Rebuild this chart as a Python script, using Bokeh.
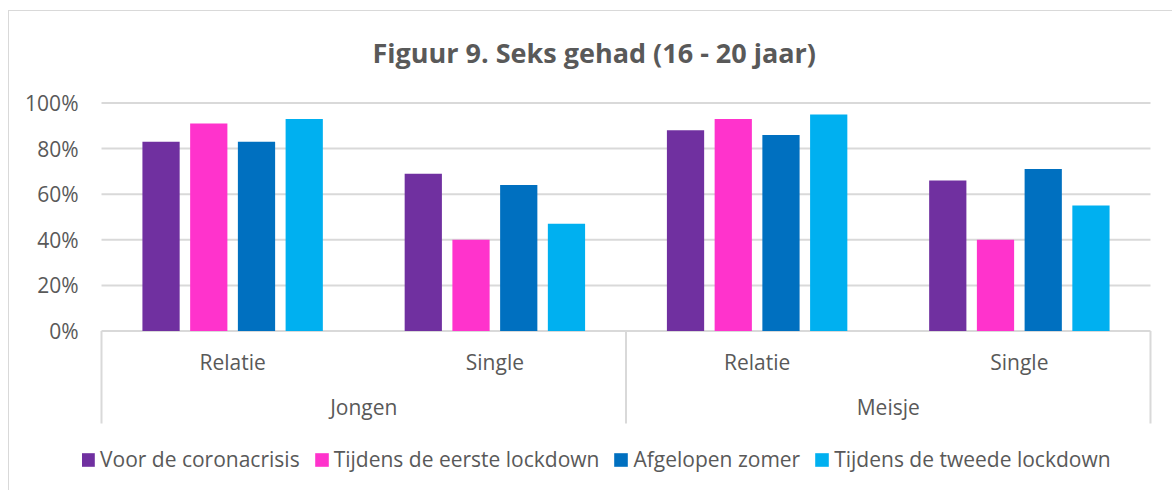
from bokeh.plotting import figure
from bokeh.models import (FactorRange, Range1d, FixedTicker, NumeralTickFormatter,
                          ColumnDataSource, Legend, LegendItem, Title)
from bokeh.transform import dodge
from bokeh.core.properties import value
from bokeh.embed import file_html
from bokeh.resources import INLINE

# ---------------- data ----------------
title_text = "Figuur 9. Seks gehad (16 - 20 jaar)"
groups = ["Jongen", "Meisje"]
subgroups = ["Relatie", "Single"]
series = ["Voor de coronacrisis", "Tijdens de eerste lockdown",
          "Afgelopen zomer", "Tijdens de tweede lockdown"]
# order: Jongen-Relatie, Jongen-Single, Meisje-Relatie, Meisje-Single
voor_corona = [0.83, 0.69, 0.88, 0.66]
eerste_lockdown = [0.91, 0.40, 0.93, 0.40]
afgelopen_zomer = [0.83, 0.64, 0.86, 0.71]
tweede_lockdown = [0.93, 0.47, 0.95, 0.55]
y_ticks = [0, 0.2, 0.4, 0.6, 0.8, 1.0]

colors = ["#7030A0", "#FF33CC", "#0070C0", "#00B0F0"]
FONT = "Open Sans"
GRAY = "#595959"
LINE = "#d9d9d9"
FS = "21px"

factors = [(g, s) for g in groups for s in subgroups]

src = ColumnDataSource(data=dict(x=factors,
                                 s0=voor_corona, s1=eerste_lockdown,
                                 s2=afgelopen_zomer, s3=tweede_lockdown,
                                 sub=[f[1] for f in factors]))

x_range = FactorRange(*factors, range_padding=0.0725, range_padding_units="absolute",
                      group_padding=0, subgroup_padding=0, factor_padding=0)
sep_bottom = -0.4057   # bottom end of the category separator lines
y_range = Range1d(-0.6996, 1.0066)

p = figure(width=1172, height=490, x_range=x_range, y_range=y_range,
           output_backend="svg", toolbar_location=None, x_axis_location=None,
           min_border_left=82, min_border_right=3, min_border_top=101,
           min_border_bottom=0)
p.outline_line_color = None
p.background_fill_color = "white"
p.border_fill_color = None
# thin light-grey chart-area border (top and left edges), drawn as CSS background
p.styles = {"background": ("linear-gradient(#d9d9d9, #d9d9d9) 8px 10px / 100% 1px no-repeat, "
                           "linear-gradient(#d9d9d9, #d9d9d9) 8px 10px / 1px 100% no-repeat, "
                           "white")}

# title
t = Title(text=title_text, align="left", vertical_align="bottom", text_font=FONT,
          text_font_size="27px", text_font_style="bold", text_color=GRAY,
          offset=290, standoff=61)
p.add_layout(t, "above")

# y axis
ax = p.yaxis[0]
ax.ticker = FixedTicker(ticks=y_ticks)
ax.formatter = NumeralTickFormatter(format="0%")
ax.axis_line_color = None
ax.major_tick_line_color = None
ax.minor_tick_line_color = None
ax.major_tick_in = 0
ax.major_tick_out = 0
ax.major_label_standoff = 4
ax.major_label_text_font = FONT
ax.major_label_text_font_size = FS
ax.major_label_text_color = GRAY

p.xgrid.grid_line_color = None
p.ygrid.grid_line_color = None

# horizontal gridlines spanning the category area only
grid_src = ColumnDataSource(data=dict(y=y_ticks,
                                      xl=[factors[0]] * len(y_ticks),
                                      xr=[factors[-1]] * len(y_ticks)))
p.segment(x0=dodge("xl", -0.5, range=p.x_range), x1=dodge("xr", 0.5, range=p.x_range),
          y0="y", y1="y", source=grid_src, line_color=LINE, line_width=2)

# bars
bar_w = 0.142
step = 0.182
offsets = [-1.5 * step, -0.5 * step, 0.5 * step, 1.5 * step]
renderers = []
for i, (name, col) in enumerate(zip(series, colors)):
    r = p.vbar(x=dodge("x", offsets[i], range=p.x_range), top=f"s{i}", bottom=0,
               width=bar_w, source=src, fill_color=col, line_color=None)
    renderers.append(r)

# category separators
left_src = ColumnDataSource(data=dict(x=[(g, subgroups[0]) for g in groups]))
right_src = ColumnDataSource(data=dict(x=[(groups[-1], subgroups[-1])]))
for s, off in ((left_src, -0.5), (right_src, 0.5)):
    p.segment(x0=dodge("x", off, range=p.x_range), x1=dodge("x", off, range=p.x_range),
              y0=0, y1=sep_bottom, source=s, line_color=LINE, line_width=2)

# category labels
p.text(x="x", y=-0.134, text="sub", source=src, text_align="center",
       text_baseline="middle", text_font=value(FONT), text_font_size=FS,
       text_color=GRAY)
grp_src = ColumnDataSource(data=dict(x=groups, text=groups))
p.text(x="x", y=-0.335, text="text", source=grp_src, text_align="center",
       text_baseline="middle", text_font=value(FONT), text_font_size=FS,
       text_color=GRAY)

# legend
legend = Legend(items=[LegendItem(label=n, renderers=[r]) for n, r in zip(series, renderers)],
                orientation="horizontal", location=(-3, 17),
                glyph_width=17, glyph_height=17, label_standoff=4, spacing=13,
                padding=0, margin=0, border_line_color=None, background_fill_alpha=0,
                label_text_font=FONT, label_text_font_size=FS,
                label_text_color=GRAY)
p.add_layout(legend, "center")

open("out.html", "w").write(file_html(p, INLINE))
